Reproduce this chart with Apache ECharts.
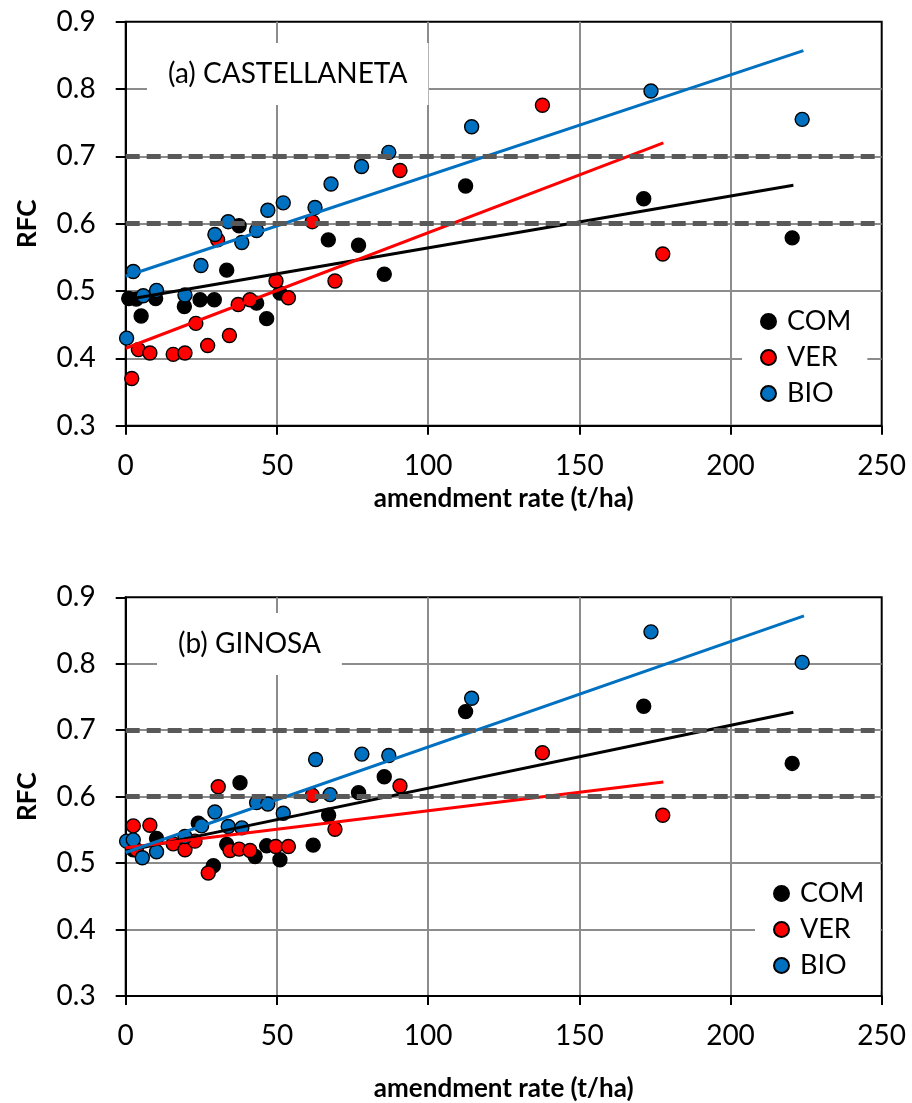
<!DOCTYPE html>
<html>
<head>
<meta charset="utf-8">
<script src="https://cdn.jsdelivr.net/npm/echarts@6/dist/echarts.min.js"></script>
<style>
html, body { margin: 0; padding: 0; background: #fff; }
#chart { width: 912px; height: 1103px; }
</style>
</head>
<body>
<div id="chart"></div>
<script>
var seriesNames = ['COM', 'VER', 'BIO'];
var seriesColors = ['#000000', '#ff0000', '#0070c0'];
var panelTitles = ['(a) CASTELLANETA', '(b) GINOSA'];
var refLevels = [0.6, 0.7];
var yTicks = [0.3, 0.9, 0.1];   // min, max, step
var xTicks = [0, 250, 50];

// (a) CASTELLANETA
var comA = [[1.0,0.489],[3.5,0.488],[5.1,0.463],[9.9,0.489],[19.4,0.477],[24.6,0.487],[29.3,0.487],
  [33.4,0.531],[37.5,0.597],[43.3,0.482],[46.6,0.459],[51.0,0.497],[67.0,0.576],[77.0,0.568],
  [85.5,0.525],[112.4,0.656],[171.3,0.637],[220.4,0.579]];
var verA = [[2.0,0.370],[4.2,0.413],[8.0,0.408],[15.7,0.406],[19.6,0.408],[23.2,0.452],[27.1,0.419],
  [30.4,0.576],[34.3,0.434],[37.2,0.480],[41.1,0.487],[49.7,0.515],[53.8,0.490],[61.7,0.603],
  [69.2,0.515],[90.7,0.679],[137.8,0.776],[177.6,0.555]];
var bioA = [[0.3,0.430],[2.5,0.529],[5.8,0.493],[10.2,0.501],[19.6,0.494],[24.9,0.538],[29.5,0.584],
  [33.9,0.603],[38.4,0.572],[43.3,0.590],[47.0,0.620],[52.1,0.631],[62.6,0.624],[67.9,0.659],
  [78.0,0.685],[87.0,0.706],[114.4,0.744],[173.7,0.797],[223.7,0.755]];
var comTrendA = [[0,0.487],[220.8,0.657]];
var verTrendA = [[0,0.415],[177.8,0.720]];
var bioTrendA = [[0,0.522],[224.1,0.857]];

// (b) GINOSA
var comB = [[2.5,0.520],[10.2,0.537],[19.6,0.530],[24.0,0.560],[29.0,0.496],[33.4,0.528],[37.8,0.621],
  [42.8,0.510],[46.6,0.526],[51.0,0.505],[62.0,0.527],[67.1,0.572],[77.0,0.606],[85.5,0.630],
  [112.4,0.728],[171.3,0.736],[220.4,0.650]];
var verB = [[2.5,0.556],[3.5,0.520],[8.0,0.557],[15.7,0.529],[19.6,0.520],[22.9,0.533],[27.3,0.485],
  [30.6,0.615],[34.5,0.519],[37.5,0.521],[41.1,0.519],[49.6,0.525],[53.8,0.525],[61.7,0.602],
  [69.2,0.551],[90.7,0.616],[137.8,0.666],[177.6,0.572]];
var bioB = [[0.3,0.533],[2.5,0.535],[5.5,0.508],[10.2,0.517],[19.6,0.540],[25.1,0.556],[29.5,0.577],
  [33.9,0.555],[38.4,0.553],[43.3,0.591],[47.0,0.589],[52.1,0.575],[62.8,0.656],[67.6,0.603],
  [78.1,0.664],[87.0,0.662],[114.4,0.748],[173.7,0.848],[223.7,0.802]];
var comTrendB = [[0,0.518],[220.8,0.727]];
var verTrendB = [[0,0.523],[177.8,0.622]];
var bioTrendB = [[0,0.516],[224.3,0.872]];

var FONT = 'Lato';
var chart = echarts.init(document.getElementById('chart'));

function xAx(idx, gap) {
    return {
        type: 'value', gridIndex: idx, min: xTicks[0], max: xTicks[1], interval: xTicks[2],
        name: 'amendment rate (t/ha)', nameLocation: 'middle', nameGap: gap,
        nameTextStyle: { fontFamily: FONT, fontSize: 26, fontWeight: 'bold', color: '#000' },
        axisLine: { lineStyle: { color: '#000', width: 2 } },
        axisTick: { length: 9, lineStyle: { color: '#000', width: 2 } },
        axisLabel: { fontFamily: FONT, fontSize: 28, color: '#000', margin: 26 },
        splitLine: { show: true, showMinLine: false, showMaxLine: false, lineStyle: { color: '#8c8c8c', width: 2 } }
    };
}
function yAx(idx) {
    return {
        type: 'value', gridIndex: idx, min: yTicks[0], max: yTicks[1], interval: yTicks[2],
        name: 'RFC', nameLocation: 'middle', nameGap: 85,
        nameTextStyle: { fontFamily: FONT, fontSize: 26, fontWeight: 'bold', color: '#000' },
        axisLine: { lineStyle: { color: '#000', width: 2 } },
        axisTick: { length: 10, lineStyle: { color: '#000', width: 2 } },
        axisLabel: { fontFamily: FONT, fontSize: 28, color: '#000', margin: 30,
            formatter: function (v) { return v.toFixed(1); } },
        splitLine: { show: true, showMinLine: false, showMaxLine: false, lineStyle: { color: '#8c8c8c', width: 2 } }
    };
}

function scatter(idx, k, data, withRef) {
    var s = {
        name: seriesNames[k], type: 'scatter', xAxisIndex: idx, yAxisIndex: idx,
        data: data, symbolSize: 14, z: 3,
        itemStyle: { color: seriesColors[k], borderColor: '#000', borderWidth: 1.4, opacity: 1 }
    };
    if (withRef) {
        s.markLine = {
            silent: true, symbol: ['none', 'none'], label: { show: false },
            lineStyle: { color: '#595959', width: 5, type: [14, 7] },
            data: refLevels.map(function (v) { return { yAxis: v }; })
        };
    }
    return s;
}
function trend(idx, k, data) {
    return {
        name: seriesNames[k] + ' trend', type: 'line', xAxisIndex: idx, yAxisIndex: idx,
        data: data, showSymbol: false, silent: true, z: 4,
        lineStyle: { color: seriesColors[k], width: 3 }, itemStyle: { color: seriesColors[k] }
    };
}
function legend(left, top, padBottom) {
    return {
        data: seriesNames, orient: 'vertical', left: left, top: top,
        backgroundColor: '#fff', padding: [10, 16, padBottom, 18], itemGap: 9,
        icon: 'circle', itemWidth: 15, itemHeight: 15,
        textStyle: { fontFamily: FONT, fontSize: 27, color: '#000', padding: [0, 0, 0, 6] }
    };
}
function title(text, left, top) {
    return {
        text: text, left: left, top: top, padding: [17, 21],
        backgroundColor: '#fff',
        textStyle: { fontFamily: FONT, fontSize: 28, fontWeight: 'normal', color: '#000' }
    };
}

var option = {
    backgroundColor: '#fff',
    animation: false,
    title: [title(panelTitles[0], 147, 43), title(panelTitles[1], 157, 613)],
    legend: [legend(742, 298, 14), legend(755, 870, 12)],
    grid: [
        { left: 125.7, top: 21.7, width: 756, height: 404, show: true, borderColor: '#000', borderWidth: 2 },
        { left: 125.7, top: 597.3, width: 756, height: 404.4, show: true, borderColor: '#000', borderWidth: 2 }
    ],
    xAxis: [xAx(0, 60), xAx(1, 80)],
    yAxis: [yAx(0), yAx(1)],
    series: [
        scatter(0, 0, comA, true), scatter(0, 1, verA), scatter(0, 2, bioA),
        trend(0, 0, comTrendA), trend(0, 1, verTrendA), trend(0, 2, bioTrendA),
        scatter(1, 0, comB, true), scatter(1, 1, verB), scatter(1, 2, bioB),
        trend(1, 0, comTrendB), trend(1, 1, verTrendB), trend(1, 2, bioTrendB)
    ]
};
chart.setOption(option);
</script>
</body>
</html>
